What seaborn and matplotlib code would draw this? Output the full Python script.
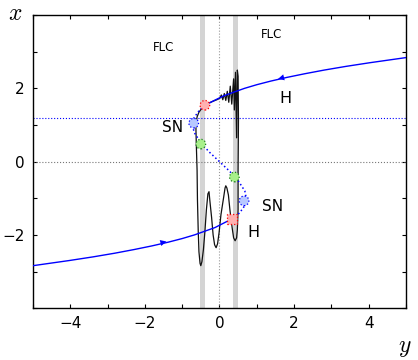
import numpy as np
import pandas as pd
import seaborn as sns
import matplotlib
matplotlib.use("Agg")
import matplotlib.pyplot as plt
from matplotlib.ticker import MultipleLocator, FixedLocator

# stable branches of the slow curve (horizontal = y, vertical = x)
lower_y = [-5.0, -4.03, -3.39, -2.81, -2.29, -1.81, -1.38, -1.0, -0.67, -0.12, 0.34]
lower_x = [-2.84, -2.70, -2.60, -2.50, -2.40, -2.30, -2.20, -2.10, -2.00, -1.80, -1.56]
upper_y = [-0.39, -0.12, 0.12, 0.67, 1.0, 1.38, 1.81, 2.29, 2.81, 3.39, 4.03, 5.0]
upper_x = [1.54, 1.68, 1.80, 2.00, 2.10, 2.20, 2.30, 2.40, 2.50, 2.60, 2.70, 2.84]

# unstable middle branch (dotted)
mid_y = [-0.39, -0.54, -0.68, -0.72, -0.68, -0.49, -0.26, 0.0, 0.26, 0.49, 0.68, 0.72, 0.68, 0.54, 0.34]
mid_x = [1.54, 1.40, 1.20, 1.00, 0.80, 0.50, 0.25, 0.0, -0.25, -0.50, -0.80, -1.00, -1.20, -1.40, -1.56]

# closed trajectory
traj_y = [-0.63, -0.60, -0.55, -0.47, -0.39, -0.28, -0.17, -0.07, 0.01, 0.05,
          0.09, 0.13, 0.17, 0.21, 0.25, 0.29, 0.33, 0.38, 0.40, 0.43,
          0.46, 0.48, 0.50, 0.51, 0.50, 0.50, 0.48, 0.46, 0.42, 0.38,
          0.34, 0.28, 0.24, 0.20, 0.17, 0.15, 0.11, 0.04, -0.01, -0.05,
          -0.09, -0.13, -0.17, -0.21, -0.26, -0.28, -0.31, -0.35, -0.39, -0.43,
          -0.47, -0.50, -0.52, -0.55, -0.57, -0.59, -0.60, -0.62, -0.63, -0.63]
traj_x = [1.00, 1.22, 1.35, 1.46, 1.54, 1.60, 1.65, 1.69, 1.73, 1.82,
          1.69, 1.86, 1.67, 1.92, 1.62, 2.06, 1.57, 2.26, 1.41, 2.44,
          0.65, 2.50, 2.33, 1.13, -0.23, -1.31, -1.86, -2.08, -2.16, -2.08,
          -1.80, -1.31, -0.91, -0.72, -0.66, -0.72, -0.99, -1.45, -1.94, -2.24,
          -2.35, -2.27, -2.00, -1.53, -1.04, -0.82, -0.88, -1.31, -1.91, -2.40,
          -2.73, -2.84, -2.78, -2.46, -1.86, -1.04, -0.23, 0.45, 0.86, 1.00]

# special points
hopf_y = [-0.39, 0.34]
hopf_x = [1.54, -1.56]
sn_y = [-0.69, 0.66]
sn_x = [1.05, -1.07]
green_y = [-0.50, 0.40]
green_x = [0.48, -0.42]

# flow arrows on stable branches: (y, x, direction)
arrow_y = [-1.5, 1.65]
arrow_x = [-2.20, 2.28]
arrow_dir = [1, -1]

bands = [(-0.52, -0.40), (0.37, 0.50)]
sn_level = 1.2

sns.set_theme(style="ticks")
plt.rcParams["mathtext.fontset"] = "cm"
plt.rcParams["font.family"] = ["DejaVu Sans"]
plt.rcParams["text.color"] = "black"
plt.rcParams["xtick.color"] = "black"
plt.rcParams["ytick.color"] = "black"

fig = plt.figure(figsize=(4.18, 3.6), dpi=100)
ax = fig.add_axes([0.079, 0.144, 0.892, 0.814])

for a, b in bands:
    ax.axvspan(a, b, color="#d4d4d4", lw=0, zorder=0)
ax.axvline(0, color="#999999", ls=":", lw=0.8, zorder=1)
ax.axhline(0, color="#777777", ls=":", lw=0.8, zorder=1)
ax.axhline(sn_level, color="blue", ls=":", lw=0.8, zorder=1)

traj = pd.DataFrame({"y": traj_y, "x": traj_x})
sns.lineplot(data=traj, x="y", y="x", sort=False, estimator=None,
             color="#111111", lw=0.9, ax=ax, zorder=2)

mid = pd.DataFrame({"y": mid_y, "x": mid_x})
sns.lineplot(data=mid, x="y", y="x", sort=False, estimator=None,
             color="blue", lw=1.1, ls=":", ax=ax, zorder=3)
for ys, xs in [(lower_y, lower_x), (upper_y, upper_x)]:
    br = pd.DataFrame({"y": ys, "x": xs})
    sns.lineplot(data=br, x="y", y="x", sort=False, estimator=None,
                 color="blue", lw=1.0, ax=ax, zorder=3)

for ay, axx, d in zip(arrow_y, arrow_x, arrow_dir):
    ax.annotate("", xy=(ay + 0.15 * d, axx + 0.04 * d), xytext=(ay, axx),
                arrowprops=dict(arrowstyle="-|>", color="blue", lw=0,
                                mutation_scale=11), zorder=4)

pts = [(hopf_y[:1], hopf_x[:1], "o", "#ffb0b0", "red"),
       (hopf_y[1:], hopf_x[1:], "s", "#ffb0b0", "red"),
       (sn_y, sn_x, "o", "#b8c8ff", "blue"),
       (green_y, green_x, "o", "#a8f08a", "#208020")]
for ys, xs, m, fc, ec in pts:
    ax.scatter(ys, xs, marker=m, s=48, facecolor=fc, edgecolor=ec,
               linewidths=0.9, linestyles=":", zorder=5)

ax.text(-1.51, 3.12, "FLC", fontsize=8.5, ha="center", va="center")
ax.text(1.41, 3.47, "FLC", fontsize=8.5, ha="center", va="center")
ax.text(-1.26, 0.94, "SN", fontsize=11, ha="center", va="center")
ax.text(1.43, -1.23, "SN", fontsize=11, ha="center", va="center")
ax.text(1.78, 1.73, "H", fontsize=11.5, ha="center", va="center")
ax.text(0.92, -1.94, "H", fontsize=11.5, ha="center", va="center")

ax.set_xlim(-5, 5)
ax.set_ylim(-4, 4)
ax.xaxis.set_major_locator(FixedLocator([-4, -2, 0, 2, 4]))
ax.xaxis.set_minor_locator(MultipleLocator(1))
ax.yaxis.set_major_locator(FixedLocator([-2, 0, 2]))
ax.yaxis.set_minor_locator(MultipleLocator(1))
ax.tick_params(which="both", direction="in", top=True, right=True,
               length=3, width=0.8, labelsize=11, pad=6)
ax.set_xlabel("")
ax.set_ylabel("")
for s in ax.spines.values():
    s.set_linewidth(1.0)
    s.set_color("black")

fig.text(0.036, 0.965, "$x$", fontsize=17, ha="center", va="center")
fig.text(0.969, 0.036, "$y$", fontsize=17, ha="center", va="center")

fig.savefig("out.png", dpi=100)
